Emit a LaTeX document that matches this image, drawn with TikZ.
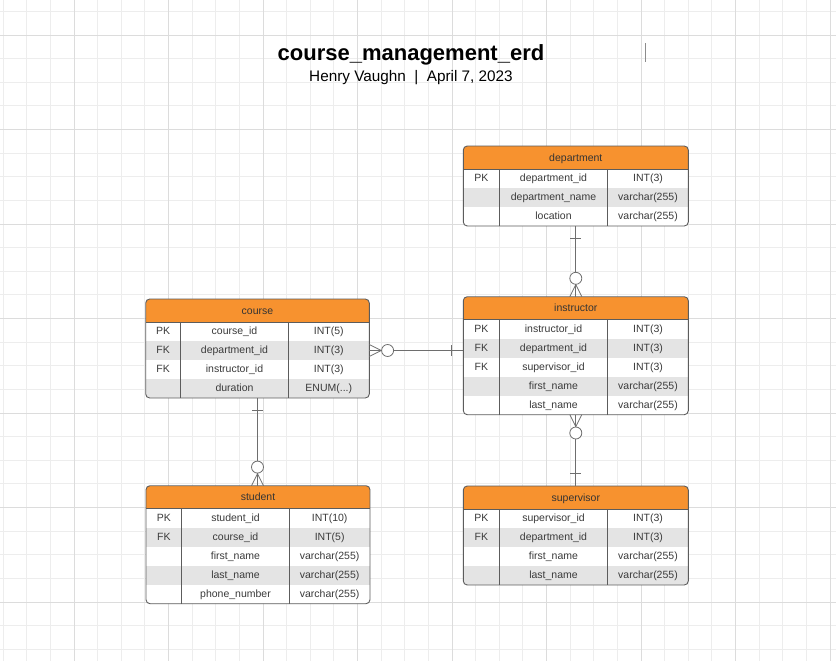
\documentclass[tikz,border=0pt]{standalone}
\usepackage{fontspec}
\setmainfont{Liberation Sans}
\usetikzlibrary{calc}
\definecolor{erdorange}{HTML}{F7922F}
\definecolor{rowgray}{HTML}{E4E4E4}
\definecolor{tborder}{HTML}{5C5C5C}
\definecolor{ttext}{HTML}{3A3A3A}
\definecolor{gridminor}{HTML}{EDEDED}
\definecolor{gridmajor}{HTML}{DCDCDC}
\definecolor{connc}{HTML}{6E6E6E}

\newcommand\erddots{...}

\tikzset{
  gridminorline/.style={draw=gridminor, line width=0.8pt},
  gridmajorline/.style={draw=gridmajor, line width=0.9pt},
  tableframe/.style={draw=tborder, line width=0.9pt, rounded corners=4pt, inner sep=0pt, outer sep=0pt, fill=none},
  rowbox/.style={inner sep=0pt, outer sep=0pt, draw=none},
  tline/.style={draw=tborder, line width=0.9pt},
  celltext/.style={font=\fontsize{10.5}{12}\selectfont, text=ttext, inner sep=0pt},
  headtext/.style={font=\fontsize{10.5}{12}\selectfont, text=ttext!90!black, inner sep=0pt},
  conn/.style={draw=connc, line width=0.8pt},
}

% #1 name, #2 left, #3 top, #4 width, #5 divider1 offset, #6 divider2 offset, #7 title, #8 rows, #9 number of rows
\newcommand\erdtable[9]{%
  \pgfmathsetmacro\tL{#2}%
  \pgfmathsetmacro\tT{#3}%
  \pgfmathsetmacro\tW{#4}%
  \pgfmathsetmacro\tR{#2+#4}%
  \pgfmathsetmacro\tH{#3+23}%
  \pgfmathsetmacro\tB{#3+23+19*#9}%
  \pgfmathsetmacro\tA{#2+#5}%
  \pgfmathsetmacro\tC{#2+#6}%
  \pgfmathsetmacro\tHt{23+19*#9}%
  \begin{scope}
    \clip[rounded corners=4pt] (\tL,\tT) rectangle (\tR,\tB);
    \fill[white] (\tL,\tT) rectangle (\tR,\tB);
    \fill[erdorange] (\tL,\tT) rectangle (\tR,\tH);
    \foreach \a/\b/\c [count=\k] in {#8}{%
      \pgfmathsetmacro\yt{\tH+19*(\k-1)}%
      \ifodd\k\relax\else
        \fill[rowgray] (\tL,\yt) rectangle (\tR,{\yt+19});
      \fi
    }
  \end{scope}
  \draw[tline] (\tL,\tH) -- (\tR,\tH);
  \draw[tline] (\tA,\tH) -- (\tA,\tB);
  \draw[tline] (\tC,\tH) -- (\tC,\tB);
  \node[tableframe, minimum width=\tW, minimum height=\tHt, anchor=north west] (#1) at (\tL,\tT) {};
  \node[headtext, anchor=base] (#1-title) at ({\tL+\tW/2},{\tT+11.5+3.6}) {#7};
  \foreach \a/\b/\c [count=\k] in {#8}{%
    \pgfmathsetmacro\yt{\tH+19*(\k-1)}%
    \node[rowbox, minimum width=\tW, minimum height=19, anchor=north west] (#1-r\k) at (\tL,\yt) {};
    \ifx\a\empty\else
      \node[celltext, anchor=base] (#1-r\k-key) at ({(\tL+\tA)/2},{\yt+9.5+3.3}) {\a};
    \fi
    \node[celltext, anchor=base] (#1-r\k-name) at ({(\tA+\tC)/2},{\yt+9.5+3.3}) {\b};
    \node[celltext, anchor=base] (#1-r\k-type) at ({(\tC+\tR)/2},{\yt+9.5+3.3}) {\c};
  }
}

\begin{document}
\begin{tikzpicture}[x=1pt,y=-1pt]
\useasboundingbox (0,0) rectangle (836,661);
\fill[white] (0,0) rectangle (836,661);

% grid
\foreach \i in {-3,...,32}{
  \pgfmathsetmacro\gx{74+23.625*\i}
  \pgfmathtruncatemacro\gm{mod(\i+40,4)}
  \ifnum\gm=0\relax\else \draw[gridminorline] (\gx,0) -- (\gx,661);\fi
}
\foreach \j in {-1,...,26}{
  \pgfmathsetmacro\gy{35+23.625*\j}
  \pgfmathtruncatemacro\gm{mod(\j+40,4)}
  \ifnum\gm=0\relax\else \draw[gridminorline] (0,\gy) -- (836,\gy);\fi
}
\foreach \i in {-3,...,32}{
  \pgfmathsetmacro\gx{74+23.625*\i}
  \pgfmathtruncatemacro\gm{mod(\i+40,4)}
  \ifnum\gm=0\relax \draw[gridmajorline] (\gx,0) -- (\gx,661);\fi
}
\foreach \j in {-1,...,26}{
  \pgfmathsetmacro\gy{35+23.625*\j}
  \pgfmathtruncatemacro\gm{mod(\j+40,4)}
  \ifnum\gm=0\relax \draw[gridmajorline] (0,\gy) -- (836,\gy);\fi
}

% title
\node[font=\bfseries\fontsize{22}{26}\selectfont, anchor=base, inner sep=0pt] (title) at (411,60.3) {course\_management\_erd};
\node[font=\fontsize{15.3}{18}\selectfont, anchor=base, inner sep=0pt] (subtitle) at (411,81.7) {Henry Vaughn\hspace{8.5pt}|\hspace{8.5pt}April 7, 2023};
\draw[draw=black!45, line width=0.8pt] (645,43.3) -- (645,61.7);

% tables
\erdtable{department}{463.3}{146}{225}{36}{144.4}{department}{PK/department\_id/INT(3), /department\_name/varchar(255), /location/varchar(255)}{3}
\erdtable{instructor}{463.3}{296.7}{225}{36}{144.4}{instructor}{PK/instructor\_id/INT(3), FK/department\_id/INT(3), FK/supervisor\_id/INT(3), /first\_name/varchar(255), /last\_name/varchar(255)}{5}
\erdtable{supervisor}{463.3}{486}{225}{36}{144.4}{supervisor}{PK/supervisor\_id/INT(3), FK/department\_id/INT(3), /first\_name/varchar(255), /last\_name/varchar(255)}{4}
\erdtable{course}{145.7}{299}{223.6}{35}{142.6}{course}{PK/course\_id/INT(5), FK/department\_id/INT(3), FK/instructor\_id/INT(3), /duration/ENUM(\erddots)}{4}
\erdtable{student}{146}{485.7}{224}{35.7}{143.3}{student}{PK/student\_id/INT(10), FK/course\_id/INT(5), /first\_name/varchar(255), /last\_name/varchar(255), /phone\_number/varchar(255)}{5}

% connector course -- instructor
\coordinate (c1a) at (course-r2.east);
\coordinate (c1b) at (instructor.west |- course-r2.east);
\draw[conn] (c1a) -- (c1b);
\draw[conn] ($(c1a)+(0,-6)$) -- ($(c1a)+(12,0)$) -- ($(c1a)+(0,6)$);
\draw[conn, fill=white] ($(c1a)+(18.3,0)$) circle[radius=6];
\draw[conn] ($(c1b)+(-11.6,-5.5)$) -- ($(c1b)+(-11.6,5.5)$);

% connector course -- student
\coordinate (c2a) at (course.south);
\coordinate (c2b) at (c2a |- student.north);
\draw[conn] (c2a) -- (c2b);
\draw[conn] ($(c2a)+(-5.5,12)$) -- ($(c2a)+(5.5,12)$);
\draw[conn, fill=white] ($(c2b)+(0,-18.6)$) circle[radius=6];
\draw[conn] ($(c2b)+(-6,0)$) -- ($(c2b)+(0,-12)$) -- ($(c2b)+(6,0)$);

% connector department -- instructor
\coordinate (c3a) at (department.south);
\coordinate (c3b) at (c3a |- instructor.north);
\draw[conn] (c3a) -- (c3b);
\draw[conn] ($(c3a)+(-5.5,12)$) -- ($(c3a)+(5.5,12)$);
\draw[conn, fill=white] ($(c3b)+(0,-18.4)$) circle[radius=6];
\draw[conn] ($(c3b)+(-6,0)$) -- ($(c3b)+(0,-12)$) -- ($(c3b)+(6,0)$);

% connector instructor -- supervisor
\coordinate (c4a) at (instructor.south);
\coordinate (c4b) at (c4a |- supervisor.north);
\draw[conn] (c4a) -- (c4b);
\draw[conn] ($(c4a)+(-6,0)$) -- ($(c4a)+(0,12)$) -- ($(c4a)+(6,0)$);
\draw[conn, fill=white] ($(c4a)+(0,18.3)$) circle[radius=6];
\draw[conn] ($(c4b)+(-5.5,-12.7)$) -- ($(c4b)+(5.5,-12.7)$);
\end{tikzpicture}
\end{document}
